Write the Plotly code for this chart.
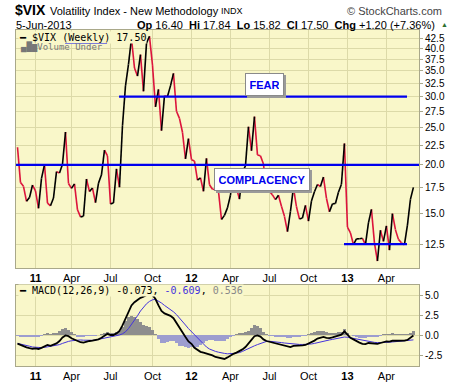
import math
import pandas as pd
import plotly.graph_objects as go

# ---------------- data ----------------
vix_close = [
    22.22, 18.01, 17.61, 16.11, 16.47, 17.75, 17.14, 15.46, 18.47, 20.04,
    15.93, 15.69, 16.43, 19.22, 19.06, 20.08, 24.32, 17.91, 17.40, 17.87,
    15.32, 14.69, 14.75, 18.40, 17.07, 17.43, 15.98, 17.95, 18.86, 21.85,
    21.10, 15.87, 15.95, 19.53, 17.52, 25.25, 32.00, 36.36, 42.44, 35.59,
    33.92, 38.52, 30.98, 41.25, 42.96, 36.20, 28.24, 31.32, 24.53, 30.16,
    30.04, 32.00, 34.47, 27.52, 26.38, 24.29, 20.73, 23.40, 20.63, 20.47,
    18.28, 18.53, 17.10, 20.79, 17.78, 17.31, 17.29, 17.11, 14.47, 14.82,
    15.50, 16.70, 19.55, 17.44, 16.32, 19.16, 19.89, 25.10, 21.76, 26.66,
    21.23, 21.11, 20.11, 17.08, 17.10, 16.74, 16.27, 16.70, 15.64, 14.74,
    13.45, 15.18, 17.47, 15.60, 14.51, 14.59, 15.73, 14.33, 16.14, 17.06,
    17.81, 17.59, 18.61, 16.41, 15.14, 15.87, 15.90, 17.00, 17.84, 22.72,
    13.83, 13.36, 12.46, 12.89, 12.90, 12.93, 12.46, 14.17, 15.36, 12.59,
    11.30, 13.57, 12.70, 13.92, 12.06, 14.97, 13.61, 12.85, 12.59, 12.45,
    13.99, 16.30, 17.50,
]

macd_line = [
    -1.08, -1.25, -1.40, -1.55, -1.65, -1.72, -1.68, -1.75, -1.60, -1.45,
    -1.25, -1.35, -1.20, -1.05, -0.75, -0.30, -0.05, -0.15, -0.40, -0.60,
    -0.80, -0.90, -0.95, -0.80, -0.75, -0.70, -0.65, -0.55, -0.35, -0.05,
    0.15, 0.00, 0.00, 0.20, 0.50, 1.20, 2.10, 3.00, 3.70, 4.10,
    4.40, 4.65, 4.80, 5.00, 5.20, 5.00, 4.50, 3.70, 3.00, 2.70,
    2.55, 2.40, 2.10, 1.50, 0.80, 0.30, -0.25, -0.80, -1.10, -1.60,
    -1.90, -2.10, -2.20, -2.30, -2.40, -2.55, -2.75, -2.85, -2.95, -3.00,
    -2.80, -2.55, -2.35, -2.20, -2.05, -1.80, -1.50, -1.10, -0.60, -0.15,
    -0.05, -0.20, -0.55, -0.75, -0.85, -0.90, -1.00, -1.10, -1.20, -1.30,
    -1.45, -1.50, -1.35, -1.35, -1.35, -1.30, -1.25, -1.10, -0.85, -0.70,
    -0.45, -0.30, -0.25, -0.35, -0.40, -0.30, -0.20, -0.10, 0.05, 0.45,
    0.00, -0.35, -0.55, -0.80, -0.95, -1.10, -1.15, -1.00, -1.05, -1.05,
    -1.10, -1.00, -0.90, -0.80, -0.82, -0.72, -0.72, -0.72, -0.72, -0.70,
    -0.62, -0.40, -0.073,
]

macd_signal = [
    -1.05, -1.12, -1.20, -1.30, -1.40, -1.50, -1.55, -1.58, -1.58, -1.55,
    -1.48, -1.42, -1.38, -1.30, -1.20, -1.05, -0.90, -0.80, -0.72, -0.68,
    -0.62, -0.62, -0.65, -0.68, -0.68, -0.66, -0.62, -0.55, -0.45, -0.35,
    -0.25, -0.22, -0.20, -0.12, 0.00, 0.15, 0.40, 0.80, 1.30, 1.80,
    2.40, 3.00, 3.50, 3.90, 4.20, 4.40, 4.45, 4.25, 4.00, 3.70,
    3.45, 3.20, 2.90, 2.55, 2.15, 1.70, 1.25, 0.80, 0.40, 0.00,
    -0.40, -0.80, -1.20, -1.50, -1.75, -1.95, -2.05, -2.15, -2.25, -2.30,
    -2.35, -2.35, -2.30, -2.25, -2.20, -2.05, -1.85, -1.65, -1.50, -1.35,
    -1.20, -1.05, -0.90, -0.80, -0.78, -0.80, -0.85, -0.90, -0.95, -1.00,
    -1.05, -1.10, -1.15, -1.15, -1.18, -1.18, -1.18, -1.15, -1.12, -1.05,
    -0.95, -0.85, -0.75, -0.70, -0.62, -0.55, -0.48, -0.42, -0.35, -0.25,
    -0.28, -0.35, -0.45, -0.55, -0.62, -0.70, -0.78, -0.85, -0.88, -0.92,
    -0.95, -0.96, -0.95, -0.92, -0.90, -0.87, -0.84, -0.81, -0.79, -0.77,
    -0.74, -0.68, -0.609,
]

first_week = "2010-11-26"
week_end = pd.date_range(first_week, periods=len(vix_close), freq="7D").strftime("%Y-%m-%d").tolist()

tick_dates = ["2011-01-07", "2011-04-01", "2011-07-01", "2011-10-07", "2012-01-06",
              "2012-04-06", "2012-07-06", "2012-10-05", "2013-01-04", "2013-04-05"]
tick_text = ["<b>11</b>", "Apr", "Jul", "Oct", "<b>12</b>", "Apr", "Jul", "Oct", "<b>13</b>", "Apr"]

main_yticks = [12.5, 15, 17.5, 20, 22.5, 25, 27.5, 30, 32.5, 35, 37.5, 40, 42.5]
macd_yticks = [-2.5, 0, 2.5, 5]

fear_level = 30
fear_span = ["2011-07-21", "2013-05-23"]
complacency_level = 20
support_level = 12.5
support_span = ["2012-12-27", "2013-05-23"]
stray_level = 41.3
stray_span = ["2011-03-17", "2011-06-23"]

quote_date = "5-Jun-2013"
quote = {"Op": "16.40", "Hi": "17.84", "Lo": "15.82", "Cl": "17.50", "Chg": "+1.20 (+7.36%)"}

# ---------------- style ----------------
W, H = 460, 383
PL, PR, PT, PB = 16, 419, 30, 366
MAIN_BOTTOM_PX = 268
MACD_TOP_PX = 285
X_RANGE = ["2010-11-22 12:00", "2013-06-20"]

BG = "#f9f7c9"
GRID = "#dcdaa8"
BORDER = "#a9a88a"
RED = "#dc143c"
BLUE_LINE = "#0000ee"
SIG = "#4433dd"
SANS = "Liberation Sans, Arial, sans-serif"
MONO = "DejaVu Sans Mono, monospace"


def px_x(p):
    return (p - PL) / (PR - PL)


def px_y(p):
    return (PB - p) / (PB - PT)


fig = go.Figure()

# VIX line split into up (black) and down (red) segments
up_x, up_y, dn_x, dn_y = [], [], [], []
for k in range(1, len(vix_close)):
    sx = [week_end[k - 1], week_end[k], None]
    sy = [vix_close[k - 1], vix_close[k], None]
    if vix_close[k] >= vix_close[k - 1]:
        up_x += sx
        up_y += sy
    else:
        dn_x += sx
        dn_y += sy

fig.add_trace(go.Scatter(x=dn_x, y=dn_y, mode="lines", line=dict(color=RED, width=1.6),
                         connectgaps=False, hoverinfo="skip", showlegend=False, xaxis="x", yaxis="y"))
fig.add_trace(go.Scatter(x=up_x, y=up_y, mode="lines", line=dict(color="black", width=1.6),
                         connectgaps=False, hoverinfo="skip", showlegend=False, xaxis="x", yaxis="y"))

# drawn horizontal lines
for xs, lvl in [(fear_span, fear_level), (X_RANGE, complacency_level),
                (support_span, support_level), (stray_span, stray_level)]:
    fig.add_trace(go.Scatter(x=xs, y=[lvl, lvl], mode="lines", line=dict(color=BLUE_LINE, width=2.2),
                             hoverinfo="skip", showlegend=False, xaxis="x", yaxis="y"))

# MACD panel
hist = [m - s for m, s in zip(macd_line, macd_signal)]
hist_colors = ["#8e8e8e" if h >= 0 else "#9d9dcf" for h in hist]
fig.add_trace(go.Bar(x=week_end, y=hist, marker=dict(color=hist_colors, line=dict(width=0)),
                     width=7 * 24 * 3600 * 1000 * 0.75, hoverinfo="skip", showlegend=False,
                     xaxis="x2", yaxis="y2"))
fig.add_trace(go.Scatter(x=week_end, y=macd_signal, mode="lines", line=dict(color=SIG, width=1),
                         hoverinfo="skip", showlegend=False, xaxis="x2", yaxis="y2"))
fig.add_trace(go.Scatter(x=week_end, y=macd_line, mode="lines", line=dict(color="black", width=1.8),
                         hoverinfo="skip", showlegend=False, xaxis="x2", yaxis="y2"))

main_dom = [px_y(MAIN_BOTTOM_PX), 1]
macd_dom = [0, px_y(MACD_TOP_PX)]

axis_common = dict(showline=True, mirror=True, linecolor=BORDER, linewidth=1,
                   showgrid=True, gridcolor=GRID, gridwidth=1, zeroline=False, automargin=False)
xfont = dict(family=SANS, size=11, color="black")
yfont = dict(family=SANS, size=10, color="black")

fig.update_layout(
    width=W, height=H, autosize=False,
    margin=dict(l=PL, r=W - PR, t=PT, b=H - PB, pad=0, autoexpand=False),
    paper_bgcolor="white", plot_bgcolor=BG,
    bargap=0, barmode="overlay",
    xaxis=dict(domain=[0, 1], anchor="y", type="date", range=X_RANGE, tickfont=xfont,
               tickmode="array", tickvals=tick_dates, ticktext=tick_text, ticks="", **axis_common),
    yaxis=dict(domain=main_dom, anchor="x", type="log", side="right", tickfont=yfont,
               range=[math.log10(10.84), math.log10(44.6)],
               tickmode="array", tickvals=main_yticks, ticktext=[f"{v:.1f}" for v in main_yticks],
               ticks="outside", ticklen=3, tickcolor=BORDER, **axis_common),
    xaxis2=dict(domain=[0, 1], anchor="y2", type="date", range=X_RANGE, matches="x", tickfont=xfont,
                tickmode="array", tickvals=tick_dates, ticktext=tick_text, ticks="", **axis_common),
    yaxis2=dict(domain=macd_dom, anchor="x2", side="right", range=[-3.875, 6.25], tickfont=yfont,
                tickmode="array", tickvals=macd_yticks, ticktext=[f"{v:.1f}" for v in macd_yticks],
                ticks="outside", ticklen=3, tickcolor=BORDER, **axis_common),
)

ann = []


def text(x, y, t, size=11, color="black", family=SANS, xanchor="left", bg=None):
    d = dict(xref="paper", yref="paper", x=px_x(x), y=px_y(y), text=t, showarrow=False,
             xanchor=xanchor, yanchor="middle", font=dict(family=family, size=size, color=color))
    if bg:
        d.update(bgcolor=bg, borderpad=0)
    ann.append(d)


text(13, 10, "<b>$VIX</b>", size=14)
text(48, 11, "Volatility Index - New Methodology", size=11)
text(219, 11, "INDX", size=9)
text(444, 11, "© StockCharts.com", size=11, color="#444444", xanchor="right")
text(14, 25, quote_date, size=11)
qtxt = "  ".join(f"<b>{k}</b> {v}" for k, v in quote.items())
text(437, 25, qtxt, size=11, xanchor="right")
text(439, 24, "▲", size=7, color="#2f6f2f")

text(18, 37, f"━ $VIX (Weekly) {vix_close[-1]:.2f}", size=10, family=MONO, bg=BG)
text(18, 47, "<span style='color:#777777'>▄█▆</span>Volume Under", size=9, color="#777777",
     family=MONO)
text(18, 290.5,
     f"━ MACD(12,26,9) {macd_line[-1]:.3f}, <span style='color:{SIG}'>{macd_signal[-1]:.3f}</span>, "
     f"<span style='color:#888888'>{hist[-1]:.3f}</span>",
     size=10, family=MONO, bg=BG)


def boxed(cx, cy, label, w):
    ann.append(dict(xref="paper", yref="paper", x=px_x(cx), y=px_y(cy), text=" ", showarrow=False,
                    xanchor="center", yanchor="middle", width=w, height=13, borderpad=4,
                    bgcolor="#9a9a9a", bordercolor="#9a9a9a", borderwidth=1, xshift=2, yshift=-2,
                    font=dict(size=11)))
    ann.append(dict(xref="paper", yref="paper", x=px_x(cx), y=px_y(cy), text=f"<b>{label}</b>",
                    showarrow=False, xanchor="center", yanchor="middle", width=w, height=13,
                    borderpad=4, bgcolor="white", bordercolor="#8a8a8a", borderwidth=1,
                    font=dict(family=SANS, size=11, color="#0000ee")))


boxed(264, 84.5, "FEAR", 29)
boxed(262, 179.5, "COMPLACENCY", 86)

fig.update_layout(annotations=ann)

fig.write_html("out.html", config={"displayModeBar": False},
               post_script="document.body.style.margin='0';document.body.style.overflow='hidden';")
